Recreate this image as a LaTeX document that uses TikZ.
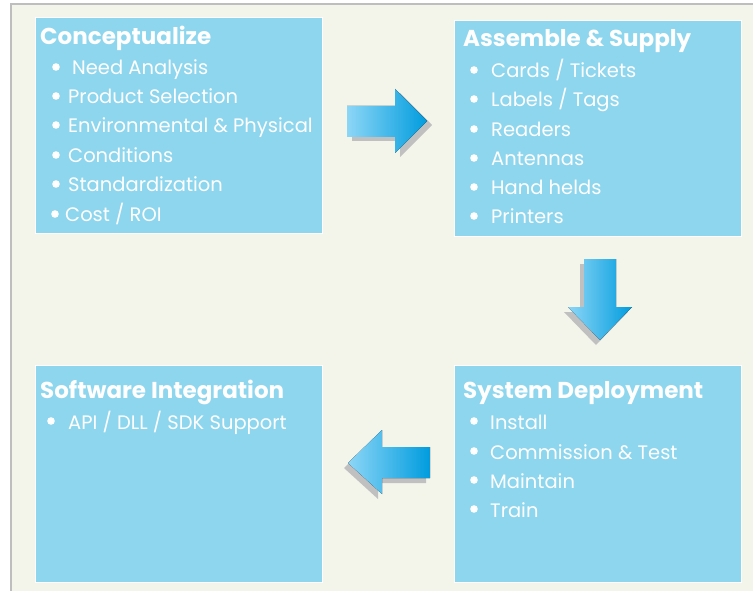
\documentclass[tikz,border=0pt]{standalone}
\usepackage{fontspec}
\setmainfont{Poppins}
\definecolor{bgcream}{RGB}{243,244,234}
\definecolor{framegray}{RGB}{190,190,190}
\definecolor{boxblue}{RGB}{142,214,238}
\definecolor{arrowlight}{RGB}{140,214,246}
\definecolor{arrowdark}{RGB}{0,156,222}
\definecolor{shadowgray}{RGB}{192,192,192}
\tikzset{
  box/.style={draw=white, line width=0.8pt, fill=boxblue},
  ttl/.style={anchor=base west, inner sep=0pt, text=white, font=\bfseries\fontsize{23}{27}\selectfont},
  itm/.style={anchor=base west, inner sep=0pt, text=white, font=\fontsize{19.5}{23}\selectfont},
  blockarrow/.style={left color=arrowlight, right color=arrowdark, draw=none},
  arrowshadow/.style={fill=shadowgray, draw=none}
}
\newcommand\bitem[5]{%
  \fill[white] (#2,#4-8) circle[radius=3.8];
  \node[itm] (#1) at (#3,#4) {#5};}
\begin{document}
\begin{tikzpicture}[x=1pt,y=-1pt]
\useasboundingbox (0,0) rectangle (753,591);
\fill[white] (0,0) rectangle (753,591);
\fill[bgcream] (11,4) rectangle (753,591);
\draw[framegray, line width=1.5pt] (11,591) -- (11,4) -- (753,4);

% boxes
\draw[box] (35,17) rectangle (322,233);
\draw[box] (454,20) rectangle (741,236);
\draw[box] (454,365) rectangle (741,582);
\draw[box] (35,365) rectangle (322,582);

% box 1
\node[ttl] (t1) at (40,45) {Conceptualize};
\bitem{a1}{56}{72}{75}{Need Analysis}
\bitem{a2}{56}{68}{104}{Product Selection}
\bitem{a3}{56}{68}{133}{Environmental \& Physical}
\bitem{a4}{56}{68}{163}{Conditions}
\bitem{a5}{56}{68}{192}{Standardization}
\bitem{a6}{55}{65}{222}{Cost / ROI}

% box 2
\node[ttl] (t2) at (463,47) {Assemble \& Supply};
\bitem{b1}{474}{491}{78}{Cards / Tickets}
\bitem{b2}{474}{491}{107}{Labels / Tags}
\bitem{b3}{474}{491}{137}{Readers}
\bitem{b4}{474}{491}{166}{Antennas}
\bitem{b5}{474}{491}{195}{Hand helds}
\bitem{b6}{474}{491}{224}{Printers}

% box 3
\node[ttl] (t3) at (463,398) {System Deployment};
\bitem{c1}{474}{490}{429}{Install}
\bitem{c2}{474}{490}{459}{Commission \& Test}
\bitem{c3}{474}{490}{488}{Maintain}
\bitem{c4}{474}{490}{517}{Train}

% box 4
\node[ttl] (t4) at (40,398) {Software Integration};
\bitem{d1}{51}{68}{429}{API / DLL / SDK Support}

% right arrow
\fill[arrowshadow, shift={(5,4)}] (347,106) -- (395,106) -- (395,89) -- (427,121) -- (395,153) -- (395,137) -- (347,137) -- cycle;
\fill[blockarrow] (347,106) -- (395,106) -- (395,89) -- (427,121) -- (395,153) -- (395,137) -- (347,137) -- cycle;
% down arrow
\fill[arrowshadow, shift={(-4,5)}] (584,259) -- (616,259) -- (616,307) -- (632,307) -- (600,340) -- (568,307) -- (584,307) -- cycle;
\fill[blockarrow] (584,259) -- (616,259) -- (616,307) -- (632,307) -- (600,340) -- (568,307) -- (584,307) -- cycle;
% left arrow
\fill[arrowshadow, shift={(-4,5)}] (430,447) -- (382,447) -- (382,430) -- (348,463) -- (382,494) -- (382,478) -- (430,478) -- cycle;
\fill[blockarrow] (430,447) -- (382,447) -- (382,430) -- (348,463) -- (382,494) -- (382,478) -- (430,478) -- cycle;
\end{tikzpicture}
\end{document}
